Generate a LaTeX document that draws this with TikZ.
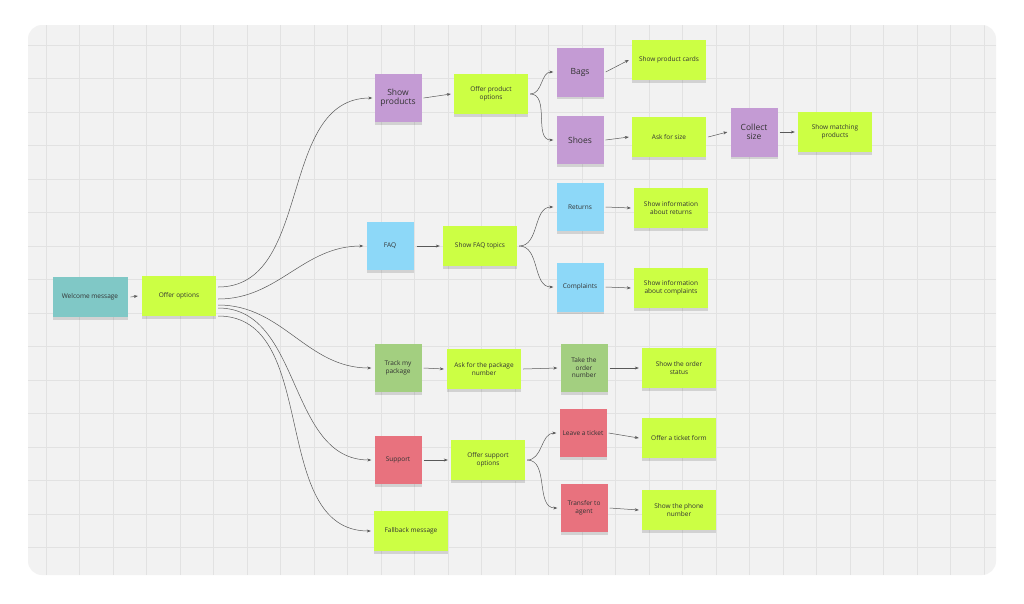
\documentclass[tikz,border=0pt]{standalone}
\usepackage{fontspec}
\setmainfont{Open Sans}
\usetikzlibrary{shadows,arrows.meta,calc}
\definecolor{lime}{HTML}{CCFF44}
\definecolor{teal1}{HTML}{80C8C6}
\definecolor{purp}{HTML}{C49BD4}
\definecolor{blu}{HTML}{8DD8F8}
\definecolor{grn}{HTML}{A3CF80}
\definecolor{redn}{HTML}{E8727E}
\definecolor{panel}{HTML}{F2F2F2}
\definecolor{gridc}{HTML}{E2E2E2}
\begin{document}
\begin{tikzpicture}[x=1pt,y=-1pt,
  note/.style={minimum width=74pt,minimum height=40pt,inner sep=1pt,align=center,font=\fontsize{6.5}{7.5}\selectfont,text=black!80,
    drop shadow={shadow xshift=0pt,shadow yshift=-2.5pt,opacity=.13,fill=black}},
  sq/.style={note,minimum width=47pt,minimum height=48pt},
  big/.style={font=\fontsize{8.5}{9.5}\selectfont},
  ln/.style={draw=black!65,line width=0.5pt,-{Stealth[length=4pt,width=3pt]}}]
\useasboundingbox (0,0) rectangle (1024,603);
\fill[white] (0,0) rectangle (1024,603);
\fill[panel,rounded corners=14pt] (28,25) rectangle (996,575);
\begin{scope}
\clip[rounded corners=14pt] (28,25) rectangle (996,575);
\foreach \x in {46,79.5,...,996} \draw[gridc,line width=0.5pt] (\x,25) -- (\x,575);
\foreach \y in {45,78.5,...,575} \draw[gridc,line width=0.5pt] (28,\y) -- (996,\y);
\end{scope}
\node[note,fill=teal1,minimum width=75pt] (wel) at (90,297) {Welcome message};
\node[note,fill=lime] (off) at (179,296) {Offer options};
\node[sq,fill=purp,big] (sp) at (398,98) {Show\\products};
\node[note,fill=lime] (opo) at (491,94) {Offer product\\options};
\node[sq,fill=purp,big,minimum height=49pt] (bags) at (580,72) {Bags};
\node[note,fill=lime] (spc) at (669,60) {Show product cards};
\node[sq,fill=purp,big] (shoes) at (580,140) {Shoes};
\node[note,fill=lime] (afs) at (669,137) {Ask for size};
\node[sq,fill=purp,big,minimum height=49pt] (cs) at (754,132) {Collect\\size};
\node[note,fill=lime] (smp) at (835,132) {Show matching\\products};
\node[sq,fill=blu] (faq) at (390,246) {FAQ};
\node[note,fill=lime] (sft) at (480,246) {Show FAQ topics};
\node[sq,fill=blu] (ret) at (580,207) {Returns};
\node[note,fill=lime] (sir) at (671,208) {Show information\\about returns};
\node[sq,fill=blu,minimum height=49pt] (comp) at (580,287) {Complaints};
\node[note,fill=lime] (sic) at (671,288) {Show information\\about complaints};
\node[sq,fill=grn] (tmp) at (398,368) {Track my\\package};
\node[note,fill=lime] (apn) at (484,369) {Ask for the package\\number};
\node[sq,fill=grn] (ton) at (584,368) {Take the\\order\\number};
\node[note,fill=lime] (sos) at (679,368) {Show the order\\status};
\node[sq,fill=redn] (sup) at (398,460) {Support};
\node[note,fill=lime] (oso) at (488,460) {Offer support\\options};
\node[sq,fill=redn] (lat) at (583,433) {Leave a ticket};
\node[note,fill=lime] (otf) at (679,438) {Offer a ticket form};
\node[sq,fill=redn] (tta) at (584,508) {Transfer to\\agent};
\node[note,fill=lime] (spn) at (679,510) {Show the phone\\number};
\node[note,fill=lime] (fb) at (411,531) {Fallback message};
% connectors
\draw[ln] ([xshift=3pt]wel.east) -- ([xshift=-4pt]off.west);
\draw[ln] ($(off.east)+(2,-9)$) to[out=0,in=180] ([xshift=-2pt]sp.west);
\draw[ln] ($(off.east)+(2,3)$) to[out=0,in=180] ([xshift=-3pt]faq.west);
\draw[ln] ($(off.east)+(2,9)$) to[out=0,in=180] ([xshift=-3pt]tmp.west);
\draw[ln] ($(off.east)+(2,12)$) to[out=0,in=180] ([xshift=-3pt]sup.west);
\draw[ln] ($(off.east)+(2,20)$) to[out=0,in=180] ([xshift=-3pt]fb.west);
\draw[ln] ([xshift=2pt]sp.east) -- ([xshift=-3pt]opo.west);
\draw[ln] ([xshift=2pt]opo.east) to[out=0,in=180] ([xshift=-3pt]bags.west);
\draw[ln] ([xshift=2pt]opo.east) to[out=0,in=180] ([xshift=-3pt]shoes.west);
\draw[ln] ([xshift=2pt]bags.east) -- ([xshift=-3pt]spc.west);
\draw[ln] ([xshift=2pt]shoes.east) -- ([xshift=-3pt]afs.west);
\draw[ln] ([xshift=2pt]afs.east) -- ([xshift=-3pt]cs.west);
\draw[ln] ([xshift=2pt]cs.east) -- ([xshift=-3pt]smp.west);
\draw[ln] ([xshift=3pt]faq.east) -- ([xshift=-3pt]sft.west);
\draw[ln] ([xshift=2pt]sft.east) to[out=0,in=180] ([xshift=-3pt]ret.west);
\draw[ln] ([xshift=2pt]sft.east) to[out=0,in=180] ([xshift=-3pt]comp.west);
\draw[ln] ([xshift=2pt]ret.east) -- ([xshift=-3pt]sir.west);
\draw[ln] ([xshift=2pt]comp.east) -- ([xshift=-3pt]sic.west);
\draw[ln] ([xshift=2pt]tmp.east) -- ([xshift=-3pt]apn.west);
\draw[ln] ([xshift=2pt]apn.east) -- ([xshift=-3pt]ton.west);
\draw[ln] ([xshift=2pt]ton.east) -- ([xshift=-3pt]sos.west);
\draw[ln] ([xshift=2pt]sup.east) -- ([xshift=-3pt]oso.west);
\draw[ln] ([xshift=2pt]oso.east) to[out=0,in=180] ([xshift=-3pt]lat.west);
\draw[ln] ([xshift=2pt]oso.east) to[out=0,in=180] ([xshift=-3pt]tta.west);
\draw[ln] ([xshift=2pt]lat.east) -- ([xshift=-3pt]otf.west);
\draw[ln] ([xshift=2pt]tta.east) -- ([xshift=-3pt]spn.west);
\end{tikzpicture}
\end{document}
